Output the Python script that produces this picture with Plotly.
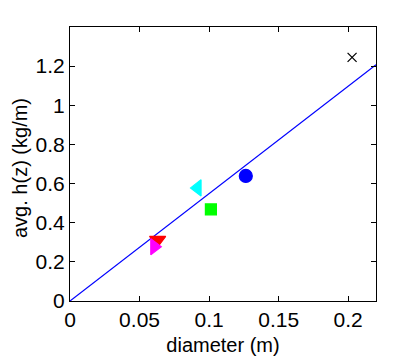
import plotly.graph_objects as go

# measured points (diameter in m, avg h(z) in kg/m)
diam = [0.2028, 0.1264, 0.0917, 0.1013, 0.0630, 0.0606]
hz = [1.245, 0.639, 0.578, 0.468, 0.312, 0.277]
symbols = ["x-thin", "circle", "triangle-left", "square", "triangle-down", "triangle-right"]
colors = ["black", "blue", "cyan", "lime", "red", "magenta"]
sizes = [9, 13, 14, 11, 14, 14]

# fitted line through origin
fit_x = [0, 0.22]
fit_y = [0, 1.207]

xticks = [0, 0.05, 0.1, 0.15, 0.2]
yticks = [0, 0.2, 0.4, 0.6, 0.8, 1, 1.2]

fig = go.Figure()
fig.add_trace(go.Scatter(x=fit_x, y=fit_y, mode='lines', line=dict(color='blue', width=1.2)))
for xv, yv, s, c, sz in zip(diam, hz, symbols, colors, sizes):
    fig.add_trace(go.Scatter(x=[xv], y=[yv], mode='markers',
                             marker=dict(symbol=s, color=c, size=sz,
                                         line=dict(color=c, width=1.2))))

axis_style = dict(showgrid=False, zeroline=False, showline=True, mirror='ticks',
                  linecolor='black', linewidth=1, ticks='inside', ticklen=5,
                  tickcolor='black', tickfont=dict(size=21, color='black'),
                  automargin=False)

fig.update_xaxes(range=[0, 0.22], tickvals=xticks, ticktext=['0', '0.05', '0.1', '0.15', '0.2'],
                 title=dict(text='diameter (m)', font=dict(size=20, color='black'), standoff=7),
                 **axis_style)
fig.update_yaxes(range=[0, 1.4], tickvals=yticks, ticktext=['0', '0.2', '0.4', '0.6', '0.8', '1', '1.2'],
                 **axis_style)

# y title as annotation so it can sit closer to the page edge
fig.add_annotation(text='avg. h(z) (kg/m)', textangle=-90, showarrow=False,
                   xref='paper', yref='paper', x=0, y=0.5, xanchor='center', yanchor='middle',
                   xshift=-50, yshift=-4, font=dict(size=20, color='black'))

# page body has an 8px margin, so the figure is 8px smaller and shifted
fig.update_layout(width=407, height=350, showlegend=False,
                  margin=dict(l=62, r=39, t=19, b=57),
                  plot_bgcolor='white', paper_bgcolor='white',
                  font=dict(family='Liberation Sans, Arial, sans-serif'))

fig.write_html("out.html")
